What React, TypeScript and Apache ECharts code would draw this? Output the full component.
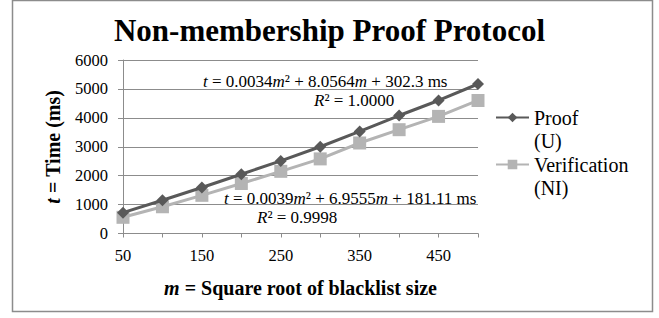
import React, { useEffect, useRef } from "react";
import * as echarts from "echarts";

const categories = ["50", "100", "150", "200", "250", "300", "350", "400", "450", "500"];
const proofValues = [720, 1150, 1590, 2050, 2510, 3000, 3530, 4080, 4600, 5170];
const verificationValues = [560, 925, 1320, 1730, 2150, 2580, 3130, 3590, 4050, 4600];
const proofName = "Proof\n(U)";
const verificationName = "Verification\n(NI)";
const titleText = "Non-membership Proof Protocol";
const eqProof = "{i|t} = 0.0034{i|m}² + 8.0564{i|m} + 302.3 ms";
const r2Proof = "{i|R}² = 1.0000";
const eqVer = "{i|t} = 0.0039{i|m}² + 6.9555{i|m} + 181.11 ms";
const r2Ver = "{i|R}² = 0.9998";

const FONT = "Liberation Serif";

export default function App() {
  const ref = useRef<HTMLDivElement>(null);
  useEffect(() => {
    if (!ref.current) return;
    const chart = echarts.init(ref.current, undefined, { renderer: "svg" });
    const rich = { i: { fontStyle: "italic", fontFamily: FONT, fontSize: 17, fill: "#000" } };
    const legendText = {
      fontFamily: FONT,
      fontSize: 20,
      color: "#000",
      lineHeight: 23,
      padding: [23, 0, 0, 0],
      rich: { a: { fontFamily: FONT, fontSize: 20, color: "#000", lineHeight: 23 } },
    };
    const legendFormatter = (name: string) =>
      name
        .split("\n")
        .map((s) => `{a|${s}}`)
        .join("\n");
    const tickRich = { t: { fontFamily: FONT, fontSize: 16.5, color: "#000" } };
    chart.setOption({
      animation: false,
      backgroundColor: "#fff",
      textStyle: { fontFamily: FONT },
      title: {
        text: titleText,
        left: "center",
        top: 10,
        textStyle: { fontFamily: FONT, fontSize: 31, fontWeight: "bold", color: "#000" },
      },
      grid: { left: 123, right: 181, top: 60, bottom: 84.5 },
      legend: [
        {
          data: [proofName],
          left: 495,
          top: 83,
          padding: 0,
          itemWidth: 33,
          itemHeight: 12,
          formatter: legendFormatter,
          textStyle: legendText,
        },
        {
          data: [verificationName],
          left: 495,
          top: 130,
          padding: 0,
          itemWidth: 33,
          itemHeight: 12,
          formatter: legendFormatter,
          textStyle: legendText,
        },
      ],
      xAxis: {
        type: "category",
        data: categories,
        boundaryGap: false,
        name: "{i|m} = Square root of blacklist size",
        nameLocation: "middle",
        nameGap: 44,
        nameTextStyle: {
          fontFamily: FONT,
          fontSize: 20,
          fontWeight: "bold",
          color: "#000",
          rich: { i: { fontStyle: "italic", fontWeight: "bold", fontFamily: FONT, fontSize: 20, color: "#000" } },
        },
        axisLine: { lineStyle: { color: "#8c8c8c", width: 1 } },
        axisTick: { show: true, interval: 0, length: 4, lineStyle: { color: "#8c8c8c" } },
        axisLabel: {
          interval: 1,
          fontFamily: FONT,
          fontSize: 16.5,
          color: "#000",
          margin: 13,
          formatter: (v: string) => `{t|${v}}`,
          rich: tickRich,
        },
        splitLine: { show: false },
      },
      yAxis: {
        type: "value",
        min: 0,
        max: 6000,
        interval: 1000,
        name: "{i|t} = Time (ms)",
        nameLocation: "middle",
        nameGap: 60,
        nameTextStyle: {
          fontFamily: FONT,
          fontSize: 20,
          fontWeight: "bold",
          color: "#000",
          rich: { i: { fontStyle: "italic", fontWeight: "bold", fontFamily: FONT, fontSize: 20, color: "#000" } },
        },
        axisLine: { show: true, lineStyle: { color: "#8c8c8c", width: 1 } },
        axisTick: { show: true, length: 5, lineStyle: { color: "#8c8c8c" } },
        axisLabel: {
          fontFamily: FONT,
          fontSize: 16.5,
          color: "#000",
          margin: 15,
          formatter: (v: number) => `{t|${v}}`,
          rich: tickRich,
        },
        splitLine: { show: true, lineStyle: { color: "#8c8c8c", width: 1 } },
      },
      series: [
        {
          name: proofName,
          type: "line",
          data: proofValues,
          symbol: "diamond",
          symbolSize: 12,
          lineStyle: { color: "#595959", width: 3 },
          itemStyle: { color: "#595959" },
          z: 3,
        },
        {
          name: verificationName,
          type: "line",
          data: verificationValues,
          symbol: "rect",
          symbolSize: 13,
          lineStyle: { color: "#b4b4b4", width: 3 },
          itemStyle: { color: "#b4b4b4" },
          z: 2,
        },
      ],
      graphic: [
        {
          type: "rect",
          shape: { x: 12.5, y: 0.5, width: 640, height: 311 },
          style: { fill: "none", stroke: "#8c8c8c", lineWidth: 1.5 },
          silent: true,
        },
        {
          type: "text",
          x: 203,
          y: 81,
          style: { text: eqProof, font: `17px ${FONT}`, fill: "#000", verticalAlign: "middle", rich },
        },
        {
          type: "text",
          x: 314,
          y: 100,
          style: { text: r2Proof, font: `17px ${FONT}`, fill: "#000", verticalAlign: "middle", rich },
        },
        {
          type: "text",
          x: 224,
          y: 198,
          style: { text: eqVer, font: `17px ${FONT}`, fill: "#000", verticalAlign: "middle", rich },
        },
        {
          type: "text",
          x: 257,
          y: 217,
          style: { text: r2Ver, font: `17px ${FONT}`, fill: "#000", verticalAlign: "middle", rich },
        },
      ],
    });
    return () => chart.dispose();
  }, []);
  return (
    <div
      ref={ref}
      style={{ position: "absolute", left: 0, top: 0, width: 659, height: 318, background: "#fff" }}
    />
  );
}
